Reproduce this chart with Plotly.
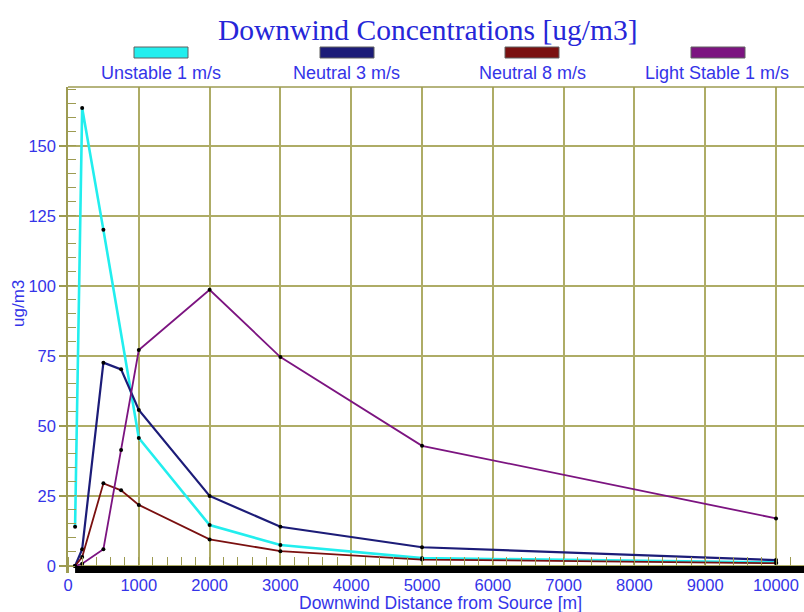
import plotly.graph_objects as go

# ---- data ----
distances = [100, 200, 500, 750, 1000, 2000, 3000, 5000, 10000]
unstable_1 = [14, 163.5, 120, None, 45.7, 14.6, 7.5, 2.8, 1.3]
neutral_3 = [0, 6, 72.6, 70.2, 55.7, 25, 14, 6.7, 2.1]
neutral_8 = [0, 3.2, 29.5, 27, 21.8, 9.5, 5.3, 2.3, 1.0]
light_stable_1 = [0, 0.8, 6, 41.4, 77.1, 98.6, 74.6, 42.9, 17]

series_names = ["Unstable 1 m/s", "Neutral 3 m/s", "Neutral 8 m/s", "Light Stable 1 m/s"]
series_values = [unstable_1, neutral_3, neutral_8, light_stable_1]
series_colors = ["#22eeee", "#1c1c78", "#7a1010", "#7c1480"]
series_widths = [2.6, 2.2, 1.8, 1.8]

x_ticks = [0, 1000, 2000, 3000, 4000, 5000, 6000, 7000, 8000, 9000, 10000]
y_ticks = [0, 25, 50, 75, 100, 125, 150]

W, H = 804, 612
L, R, T, B = 68, 0, 87, 39
X_MAX = 10395
Y_MIN, Y_MAX = -2.5, 171

OLIVE = "#aeac66"
AXIS_OLIVE = "#9d9b52"
BLUE = "#3434e8"
TITLE_BLUE = "#2626d8"
SANS = "Liberation Sans, Arial, sans-serif"

fig = go.Figure()
for name, vals, col, lw in zip(series_names, series_values, series_colors, series_widths):
    fig.add_trace(go.Scatter(
        x=distances, y=vals, name=name, mode="lines+markers",
        connectgaps=True,
        line=dict(color=col, width=lw),
        marker=dict(color="black", size=4),
        showlegend=False,
    ))

pw = W - L - R
ph = H - T - B

def px_x(p):
    return (p - L) / pw

def px_y(p):
    return (H - B - p) / ph

shapes = []
# top frame line
shapes.append(dict(type="line", xref="paper", yref="paper", x0=0, x1=1, y0=1, y1=1,
                   line=dict(color=AXIS_OLIVE, width=1.5)))
# thick ground bar
shapes.append(dict(type="rect", xref="x", yref="y", x0=distances[0], x1=X_MAX,
                   y0=Y_MIN, y1=0, fillcolor="black", line=dict(width=0), layer="above"))

annotations = []
# manual legend: swatch above label
legend_swatch_px = [(134, 188), (320, 374), (505, 559), (691, 745)]
legend_label_cx = [161, 346, 532, 717]
for (x0p, x1p), cx, name, col in zip(legend_swatch_px, legend_label_cx, series_names, series_colors):
    shapes.append(dict(type="rect", xref="paper", yref="paper",
                       x0=px_x(x0p), x1=px_x(x1p), y0=px_y(58), y1=px_y(47),
                       fillcolor=col, line=dict(color="#606060", width=1)))
    annotations.append(dict(text=name, xref="paper", yref="paper", x=px_x(cx), y=px_y(73),
                            xanchor="center", yanchor="middle", showarrow=False,
                            font=dict(family=SANS, size=18, color=BLUE)))

# title
annotations.append(dict(text="Downwind Concentrations [ug/m3]", xref="paper", yref="paper",
                        x=px_x(428), y=px_y(30), xanchor="center", yanchor="middle", showarrow=False,
                        font=dict(family="Liberation Serif, Times New Roman, serif", size=29.5, color=TITLE_BLUE)))
# axis titles
annotations.append(dict(text="Downwind Distance from Source [m]", xref="paper", yref="paper",
                        x=px_x(440), y=px_y(603), xanchor="center", yanchor="middle", showarrow=False,
                        font=dict(family=SANS, size=17.5, color=BLUE)))
annotations.append(dict(text="ug/m3", xref="paper", yref="paper", textangle=-90,
                        x=px_x(18), y=px_y(304), xanchor="center", yanchor="middle", showarrow=False,
                        font=dict(family=SANS, size=17, color=BLUE)))

fig.update_layout(
    width=W, height=H,
    margin=dict(l=L, r=R, t=T, b=B, pad=0),
    paper_bgcolor="white", plot_bgcolor="white",
    showlegend=False,
    shapes=shapes, annotations=annotations,
    xaxis=dict(
        range=[0, X_MAX], tickmode="array", tickvals=x_ticks,
        ticktext=[str(v) for v in x_ticks],
        showgrid=True, gridcolor=OLIVE, gridwidth=1.6,
        zeroline=False, showline=False, ticks="",
        tickfont=dict(family=SANS, size=16.5, color=BLUE),
        minor=dict(dtick=200, tick0=0, ticks="inside", ticklen=16, tickcolor=AXIS_OLIVE, tickwidth=1.4, showgrid=False),
    ),
    yaxis=dict(
        range=[Y_MIN, Y_MAX], tickmode="array", tickvals=y_ticks,
        ticktext=[str(v) for v in y_ticks],
        showgrid=True, gridcolor=OLIVE, gridwidth=1.6,
        zeroline=False, showline=True, linecolor=AXIS_OLIVE, linewidth=1.5,
        ticks="outside", ticklen=7, tickcolor=AXIS_OLIVE, tickwidth=1.5,
        tickfont=dict(family=SANS, size=16.5, color=BLUE),
        minor=dict(dtick=5, tick0=0, ticks="inside", ticklen=8, tickcolor=AXIS_OLIVE, tickwidth=1.2, showgrid=False),
    ),
)

fig.write_html("out.html", config={"displayModeBar": False},
               post_script="document.body.style.margin='0px';document.body.style.overflow='hidden';")
